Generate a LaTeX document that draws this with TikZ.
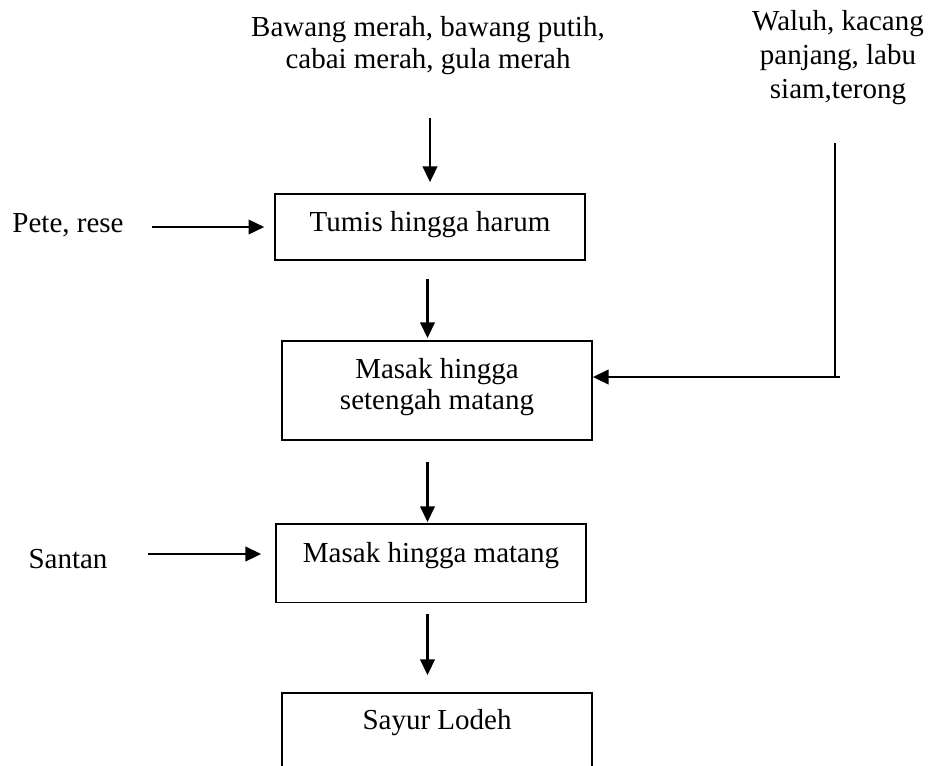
\documentclass[tikz,border=0pt]{standalone}
\usepackage{fontspec}
\setmainfont{Liberation Serif}
\usetikzlibrary{arrows.meta}

\begin{document}
\begin{tikzpicture}[x=0.4138pt, y=-0.4138pt, font=\fontsize{12}{13}\selectfont,
    box/.style={draw, line width=0.7pt, minimum width=128.3pt, inner xsep=0pt,
      inner ysep=0pt, align=center, anchor=north},
    ingredient/.style={align=center, inner sep=0pt, anchor=base},
    flow/.style={line width=0.95pt, -{Triangle[length=6.5pt, width=6pt]}},
    plain/.style={line width=0.95pt}]
  \useasboundingbox (0,0) rectangle (932,765);
  \clip (0,0) rectangle (932,765);
  \node[box, text height=15.7pt, text depth=11.6pt] (tumis) at (430,193) {Tumis hingga harum};
  \node[box, text height=28.5pt, text depth=12.4pt] (setengah) at (437,340) {Masak hingga\\setengah matang};
  \node[box, text height=16.1pt, text depth=16.5pt] (matang) at (431,523) {Masak hingga matang};
  \node[box, text height=15.3pt, text depth=60pt] (lodeh) at (437,692) {Sayur Lodeh};
  \node[ingredient] (bumbu) at (428,68) {Bawang merah, bawang putih,\\cabai merah, gula merah};
  \node[ingredient, font=\fontsize{12}{14}\selectfont] (waluh) at (838,98) {Waluh, kacang\\panjang, labu\\siam,terong};
  \node[ingredient] (pete) at (68,232) {Pete, rese};
  \node[ingredient] (santan) at (68,568) {Santan};
  \coordinate (bumbu-out) at (430,118);
  \coordinate (pete-out) at (152,227);
  \coordinate (santan-out) at (148,554);
  \coordinate (waluh-out) at (835,143);
  \coordinate (waluh-turn) at (840,377);
  \coordinate (axis) at (427.5,0);
  \draw[flow, shorten >=4.5pt] (bumbu-out) -- (bumbu-out |- tumis.north);
  \draw[flow, shorten >=4.1pt] (pete-out) -- (pete-out -| tumis.west);
  \draw[flow, shorten <=7.4pt, shorten >=0.8pt] (tumis.south -| axis) -- (setengah.north -| axis);
  \draw[plain] (waluh-out) -- (waluh-out |- waluh-turn);
  \draw[flow] (waluh-turn) -- (waluh-turn -| setengah.east);
  \draw[flow, shorten <=8.7pt, shorten >=0.4pt] (setengah.south -| axis) -- (matang.north -| axis);
  \draw[flow, shorten >=5.8pt] (santan-out) -- (santan-out -| matang.west);
  \draw[flow, shorten <=4.5pt, shorten >=7pt] (matang.south -| axis) -- (lodeh.north -| axis);
\end{tikzpicture}
\end{document}
